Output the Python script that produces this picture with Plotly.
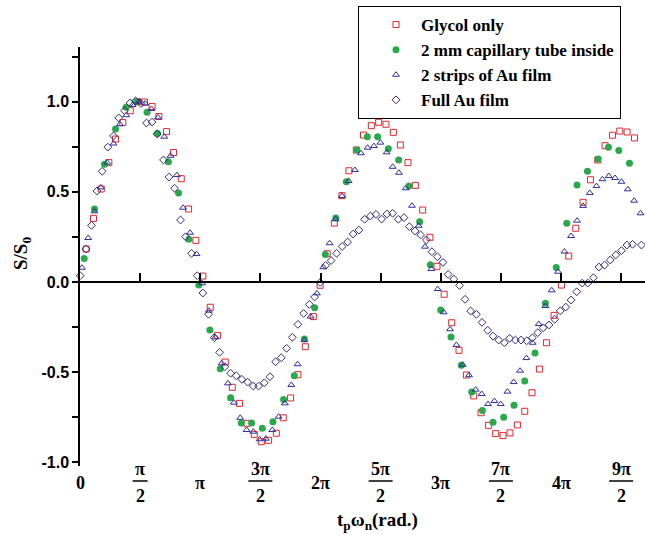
import math
import plotly.graph_objects as go

# ---- measured signal S/S0 versus t_p * omega_n (rad) ----
glycol_x = [0.162, 0.353, 0.554, 0.753, 0.928, 1.119, 1.312, 1.503, 1.686, 1.882, 2.060, 2.261,
            2.444, 2.645, 2.836, 3.027, 3.210, 3.403, 3.594, 3.795, 3.978, 4.169, 4.360, 4.553,
            4.736, 4.927, 5.128, 5.311, 5.502, 5.693, 5.886, 6.095, 6.273, 6.456, 6.644, 6.843,
            7.026, 7.219, 7.407, 7.611, 7.802, 7.993, 8.186, 8.369, 8.568, 8.761, 8.952, 9.143,
            9.326, 9.514, 9.710, 9.901, 10.094, 10.285, 10.476, 10.669, 10.860, 11.051, 11.234,
            11.427, 11.618, 11.809, 12.002, 12.185, 12.384, 12.577, 12.768, 12.951, 13.142,
            13.335, 13.526, 13.717, 13.910, 14.101, 14.292, 14.485]
glycol_y = [0.183, 0.353, 0.516, 0.662, 0.793, 0.884, 0.950, 1.000, 0.998, 0.973, 0.918, 0.834,
            0.718, 0.573, 0.405, 0.231, 0.033, -0.140, -0.296, -0.444, -0.584, -0.673, -0.784,
            -0.845, -0.886, -0.878, -0.839, -0.753, -0.643, -0.514, -0.359, -0.192, -0.018,
            0.157, 0.327, 0.479, 0.617, 0.732, 0.815, 0.867, 0.886, 0.875, 0.830, 0.760, 0.662,
            0.536, 0.399, 0.248, 0.087, -0.068, -0.226, -0.379, -0.516, -0.632, -0.725, -0.795,
            -0.841, -0.852, -0.837, -0.793, -0.717, -0.614, -0.483, -0.337, -0.185, -0.017,
            0.144, 0.298, 0.442, 0.567, 0.677, 0.756, 0.814, 0.837, 0.832, 0.799]

capillary_x = [0.110, 0.379, 0.640, 0.928, 1.202, 1.477, 1.751, 2.026, 2.308, 2.574, 2.844, 3.105,
               3.393, 3.664, 3.934, 4.213, 4.482, 4.762, 5.039, 5.319, 5.598, 5.860, 6.129, 6.409,
               6.683, 6.958, 7.235, 7.506, 7.776, 8.055, 8.325, 8.594, 8.873, 9.153, 9.422, 9.692,
               9.963, 10.233, 10.512, 10.789, 11.069, 11.338, 11.618, 11.887, 12.159, 12.441,
               12.716, 12.985, 13.257, 13.534, 13.806, 14.075, 14.354]
capillary_y = [0.131, 0.405, 0.653, 0.849, 0.969, 1.000, 0.941, 0.824, 0.667, 0.493, 0.237, -0.017,
               -0.266, -0.481, -0.642, -0.782, -0.782, -0.811, -0.775, -0.651, -0.520, -0.316,
               -0.143, 0.153, 0.355, 0.556, 0.732, 0.806, 0.806, 0.739, 0.677, 0.532, 0.334, 0.096,
               -0.155, -0.305, -0.462, -0.610, -0.712, -0.778, -0.750, -0.684, -0.549, -0.394,
               -0.118, 0.080, 0.326, 0.538, 0.614, 0.682, 0.747, 0.730, 0.658]

strips_x = [0.050, 0.214, 0.379, 0.546, 0.711, 0.876, 1.043, 1.208, 1.372, 1.539, 1.704, 1.869,
            2.036, 2.201, 2.365, 2.530, 2.692, 2.875, 3.045, 3.189, 3.366, 3.534, 3.698, 3.863,
            4.020, 4.187, 4.352, 4.527, 4.692, 4.856, 5.023, 5.188, 5.353, 5.520, 5.685, 5.860,
            6.025, 6.189, 6.356, 6.521, 6.678, 6.843, 7.018, 7.182, 7.339, 7.514, 7.679, 7.846,
            8.011, 8.168, 8.332, 8.508, 8.672, 8.847, 9.012, 9.179, 9.344, 9.501, 9.666, 9.833,
            9.997, 10.162, 10.337, 10.494, 10.659, 10.826, 10.991, 11.166, 11.330, 11.495,
            11.662, 11.827, 11.984, 12.159, 12.324, 12.488, 12.655, 12.828, 12.985, 13.142,
            13.317, 13.492, 13.649, 13.813, 13.978, 14.145, 14.310, 14.475, 14.642]
strips_y = [0.079, 0.244, 0.392, 0.525, 0.662, 0.768, 0.875, 0.925, 0.982, 1.000, 0.990, 0.960,
            0.913, 0.806, 0.700, 0.593, 0.412, 0.273, 0.155, -0.007,
            -0.159, -0.307, -0.451, -0.562, -0.669, -0.753, -0.821, -0.830, -0.872, -0.869,
            -0.821, -0.747, -0.673, -0.571, -0.456, -0.322, -0.192, -0.063, 0.082,
            0.215, 0.348, 0.477, 0.560, 0.621, 0.714, 0.745, 0.754, 0.773, 0.719, 0.639, 0.606,
            0.520, 0.423, 0.312, 0.196, 0.072, -0.039,
            -0.168, -0.262, -0.349, -0.459, -0.517, -0.597, -0.621, -0.677, -0.660, -0.677,
            -0.608, -0.555, -0.492, -0.422, -0.337, -0.233, -0.133, -0.046, 0.057, 0.169, 0.255,
            0.340, 0.422, 0.494, 0.532, 0.570, 0.588, 0.577, 0.556, 0.514, 0.451, 0.381]

full_x = [0.005, 0.157, 0.301, 0.444, 0.580, 0.727, 0.876, 1.012, 1.163, 1.307, 1.451, 1.594,
          1.738, 1.882, 2.013, 2.182, 2.326, 2.470, 2.627, 2.757, 2.914, 3.063, 3.210,
          3.359, 3.508, 3.646, 3.785, 3.934, 4.083, 4.229, 4.378, 4.527, 4.665, 4.814, 4.961,
          5.110, 5.259, 5.397, 5.546, 5.693, 5.842, 5.991, 6.129, 6.273, 6.417, 6.560, 6.704,
          6.848, 6.992, 7.135, 7.287, 7.436, 7.585, 7.731, 7.880, 8.019, 8.168, 8.317, 8.463,
          8.604, 8.751, 8.900, 9.048, 9.195, 9.336, 9.482, 9.618, 9.767, 9.914, 10.058,
          10.206, 10.356, 10.502, 10.651, 10.789, 10.938, 11.087, 11.226, 11.375, 11.521,
          11.670, 11.819, 11.958, 12.101, 12.253, 12.402, 12.546, 12.690, 12.828, 12.977,
          13.121, 13.264, 13.413, 13.557, 13.704, 13.852, 13.996, 14.145, 14.289, 14.435,
          14.668]
full_y = [0.035, 0.183, 0.314, 0.505, 0.614, 0.748, 0.810, 0.910, 0.950, 0.993, 1.004, 0.990,
          0.882, 0.887, 0.821, 0.677, 0.582, 0.520, 0.344, 0.251, 0.159, 0.035, -0.061,
          -0.179, -0.309, -0.390, -0.470, -0.506, -0.520, -0.540, -0.555, -0.577, -0.577,
          -0.559, -0.525, -0.442, -0.420, -0.368, -0.307, -0.235, -0.174, -0.124, -0.083,
          -0.003, 0.092, 0.119, 0.159, 0.197, 0.222, 0.266, 0.288, 0.348, 0.366, 0.375, 0.349,
          0.377, 0.381, 0.348, 0.357, 0.307, 0.283, 0.261, 0.233, 0.168, 0.140, 0.109, 0.042,
          0.016, -0.019, -0.096, -0.161, -0.179, -0.224, -0.268, -0.300, -0.322, -0.337,
          -0.312, -0.322, -0.322, -0.326, -0.309, -0.281, -0.254, -0.238, -0.207, -0.160,
          -0.139, -0.100, -0.054, -0.006, -0.006, 0.024, 0.083, 0.094, 0.122, 0.150, 0.174,
          0.205, 0.209, 0.205]

# x tick labels at multiples of pi/2 (numerator, denominator)
tick_num = ["0", "π", "π", "3π", "2π", "5π", "3π", "7π", "4π", "9π"]
tick_den = ["", "2", "", "2", "", "2", "", "2", "", "2"]
tick_vals = [k * math.pi / 2 for k in range(len(tick_num))]

y_ticks = [-1.0, -0.5, 0.0, 0.5, 1.0]
y_minor = [-0.75, -0.25, 0.25, 0.75, 1.25]

X_RANGE = [0.0, 14.76]
Y_RANGE = [-1.0205, 1.3034]
W, H = 645, 535
M = dict(l=80, r=0, t=47, b=69)
plot_w = W - M["l"] - M["r"]
plot_h = H - M["t"] - M["b"]


def ypaper(px):
    """paper y for a pixel row measured from the top of the page"""
    return (H - M["b"] - px) / plot_h


def xpaper(px):
    return (px - M["l"]) / plot_w


serif = "Liberation Serif, Times New Roman, Times, serif"
sans = "Liberation Sans, Arial, sans-serif"

fig = go.Figure()
series = [
    ("Glycol only", glycol_x, glycol_y,
     dict(symbol="square-open", size=6, color="#e0262c", line=dict(width=1, color="#e0262c"))),
    ("2 mm capillary tube inside", capillary_x, capillary_y,
     dict(symbol="circle", size=7, color="#2aa84c", line=dict(width=0))),
    ("2 strips of Au film", strips_x, strips_y,
     dict(symbol="triangle-up-open", size=6, color="#2b2f9c", line=dict(width=1, color="#2b2f9c"))),
    ("Full Au film", full_x, full_y,
     dict(symbol="diamond-open", size=6, color="#2e2a7a", line=dict(width=1, color="#2e2a7a"))),
]
for name, xs, ys, mk in series:
    fig.add_trace(go.Scatter(x=xs, y=ys, mode="markers", name=f"<b>{name}</b>", marker=mk,
                             cliponaxis=False))

annotations = []
shapes = []
px_per_unit = plot_w / (X_RANGE[1] - X_RANGE[0])
label_font = dict(family=serif, size=18, color="black")
for v, num, den in zip(tick_vals, tick_num, tick_den):
    if den:
        annotations.append(dict(x=v, y=ypaper(469), xref="x", yref="paper", text=f"<b>{num}</b>",
                                showarrow=False, yanchor="middle", xanchor="center",
                                font=label_font))
        annotations.append(dict(x=v, y=ypaper(496), xref="x", yref="paper", text=f"<b>{den}</b>",
                                showarrow=False, yanchor="middle", xanchor="center",
                                font=label_font))
        half = (3 + 4.5 * len(num)) / px_per_unit
        shapes.append(dict(type="line", xref="x", yref="paper", x0=v - half, x1=v + half,
                           y0=ypaper(481), y1=ypaper(481),
                           line=dict(color="black", width=1.5)))
    else:
        annotations.append(dict(x=v, y=ypaper(483), xref="x", yref="paper", text=f"<b>{num}</b>",
                                showarrow=False, yanchor="middle", xanchor="center",
                                font=label_font))

annotations.append(dict(x=xpaper(377), y=ypaper(521), xref="paper", yref="paper",
                        text="<b>t<sub>p</sub>ω<sub>n</sub>(rad.)</b>", showarrow=False,
                        xanchor="center", yanchor="middle",
                        font=dict(family=serif, size=19, color="black")))
annotations.append(dict(x=xpaper(22), y=ypaper(254), xref="paper", yref="paper",
                        text="<b>S/S<sub>0</sub></b>", showarrow=False, textangle=-90,
                        xanchor="center", yanchor="middle",
                        font=dict(family=serif, size=19, color="black")))

fig.update_layout(
    width=W, height=H, margin=M,
    paper_bgcolor="white", plot_bgcolor="white",
    showlegend=True,
    legend=dict(x=xpaper(358), y=ypaper(6), xanchor="left", yanchor="top",
                bordercolor="black", borderwidth=1, bgcolor="white",
                indentation=12, itemwidth=40,
                font=dict(family=serif, size=17, color="black")),
    xaxis=dict(range=X_RANGE, anchor="free",
               position=(0 - Y_RANGE[0]) / (Y_RANGE[1] - Y_RANGE[0]),
               tickvals=tick_vals, ticks="inside", ticklen=8, tickwidth=1.5, tickcolor="black",
               showticklabels=False, showline=True, linewidth=1.5, linecolor="black",
               showgrid=False, zeroline=False),
    yaxis=dict(range=Y_RANGE, tickvals=y_ticks, ticktext=[f"<b>{t:.1f}</b>" for t in y_ticks],
               ticks="outside", ticklen=6, tickwidth=1.5, tickcolor="black",
               showline=True, linewidth=1.5, linecolor="black",
               showgrid=False, zeroline=False,
               tickfont=dict(family=sans, size=16, color="black"),
               minor=dict(tickvals=y_minor, ticks="outside", ticklen=6, tickwidth=1.5,
                          tickcolor="black")),
    annotations=annotations,
    shapes=shapes,
)

fig.write_html("out.html")
